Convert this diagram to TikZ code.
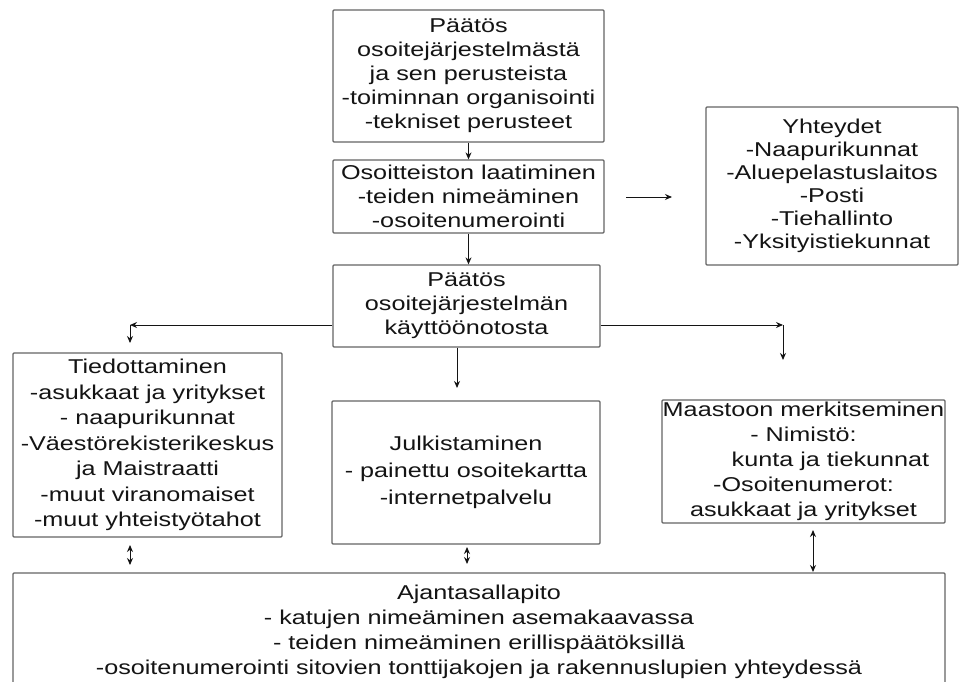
\documentclass[tikz,border=0pt]{standalone}
\usepackage{fontspec}
\setmainfont{Liberation Sans}[FakeStretch=1.26]
\usetikzlibrary{arrows.meta}
\definecolor{boxline}{RGB}{100,100,100}
\definecolor{ink}{RGB}{20,20,20}
\tikzset{
  box/.style={draw=boxline, line width=1.3pt, rounded corners=1pt, align=center,
    text=ink, inner sep=0pt, font=\fontsize{20}{24}\selectfont},
  arr/.style={draw=ink, line width=1pt, -{Stealth[length=7pt,width=6pt]}},
  darr/.style={draw=ink, line width=1pt, {Stealth[length=7pt,width=6pt]}-{Stealth[length=7pt,width=6pt]}}
}
\begin{document}
\begin{tikzpicture}[x=1pt,y=-1pt]
\useasboundingbox (0,0) rectangle (966,682);
\clip (0,0) rectangle (966,682);
\fill[white] (0,0) rectangle (966,682);

% process boxes
\node[box, minimum width=271, minimum height=132] (b1) at (468.5,76)
  {Päätös\\osoitejärjestelmästä\\ja sen perusteista\\-toiminnan organisointi\\-tekniset perusteet};
\node[box, minimum width=271, minimum height=73] (b2) at (468.5,196.5)
  {Osoitteiston laatiminen\\-teiden nimeäminen\\-osoitenumerointi};
\node[box, minimum width=267, minimum height=82] (b3) at (466.5,306)
  {Päätös\\osoitejärjestelmän\\käyttöönotosta};
\node[box, minimum width=252, minimum height=158, font=\fontsize{20}{23}\selectfont] (yh) at (832,186)
  {Yhteydet\\-Naapurikunnat\\-Aluepelastuslaitos\\-Posti\\-Tiehallinto\\-Yksityistiekunnat};
\node[box, minimum width=269, minimum height=184, font=\fontsize{20}{25.5}\selectfont] (ti) at (147.5,445)
  {Tiedottaminen\\-asukkaat ja yritykset\\- naapurikunnat\\-Väestörekisterikeskus\\ja Maistraatti\\-muut viranomaiset\\-muut yhteistyötahot};
\node[box, minimum width=268, minimum height=143, font=\fontsize{20}{27}\selectfont] (ju) at (466,472.5)
  {Julkistaminen\\- painettu osoitekartta\\-internetpalvelu};
\node[box, minimum width=283, minimum height=123, font=\fontsize{20}{25}\selectfont] (ma) at (803.5,461.5)
  {Maastoon merkitseminen\\- Nimistö:\\\hspace*{54pt}kunta ja tiekunnat\\-Osoitenumerot:\hspace*{36pt}\\asukkaat ja yritykset};
\node[box, minimum width=932, minimum height=117, font=\fontsize{20}{25}\selectfont] (aj) at (479,631.5)
  {Ajantasallapito\\- katujen nimeäminen asemakaavassa\\- teiden nimeäminen erillispäätöksillä\\-osoitenumerointi sitovien tonttijakojen ja rakennuslupien yhteydessä};

% connector end points
\coordinate (ys) at (626,197);
\coordinate (ye) at (672,197);
\coordinate (jtop) at (457,388);
\coordinate (lcorner) at (130,325);
\coordinate (lend) at (130,343);
\coordinate (rcorner) at (783,325);
\coordinate (rend) at (783,360);
\coordinate (t1) at (130,545);
\coordinate (t2) at (130,565);
\coordinate (j1) at (467,547);
\coordinate (j2) at (467,564);
\coordinate (m1) at (813,530);
\coordinate (m2) at (813,572);

% connectors
\draw[arr] (b1.south) -- (b1.south |- b2.north);
\draw[arr] (b2.south) -- (b2.south |- b3.north);
\draw[arr] (ys) -- (ye);
\draw[arr] (b3.south -| jtop) -- (jtop);
\draw[arr] (b3.west |- lcorner) -- (lcorner);
\draw[arr] (lcorner) -- (lend);
\draw[arr] (b3.east |- rcorner) -- (rcorner);
\draw[arr] (rcorner) -- (rend);
\draw[darr] (t1) -- (t2);
\draw[darr] (j1) -- (j2);
\draw[darr] (m1) -- (m2);
\end{tikzpicture}
\end{document}
